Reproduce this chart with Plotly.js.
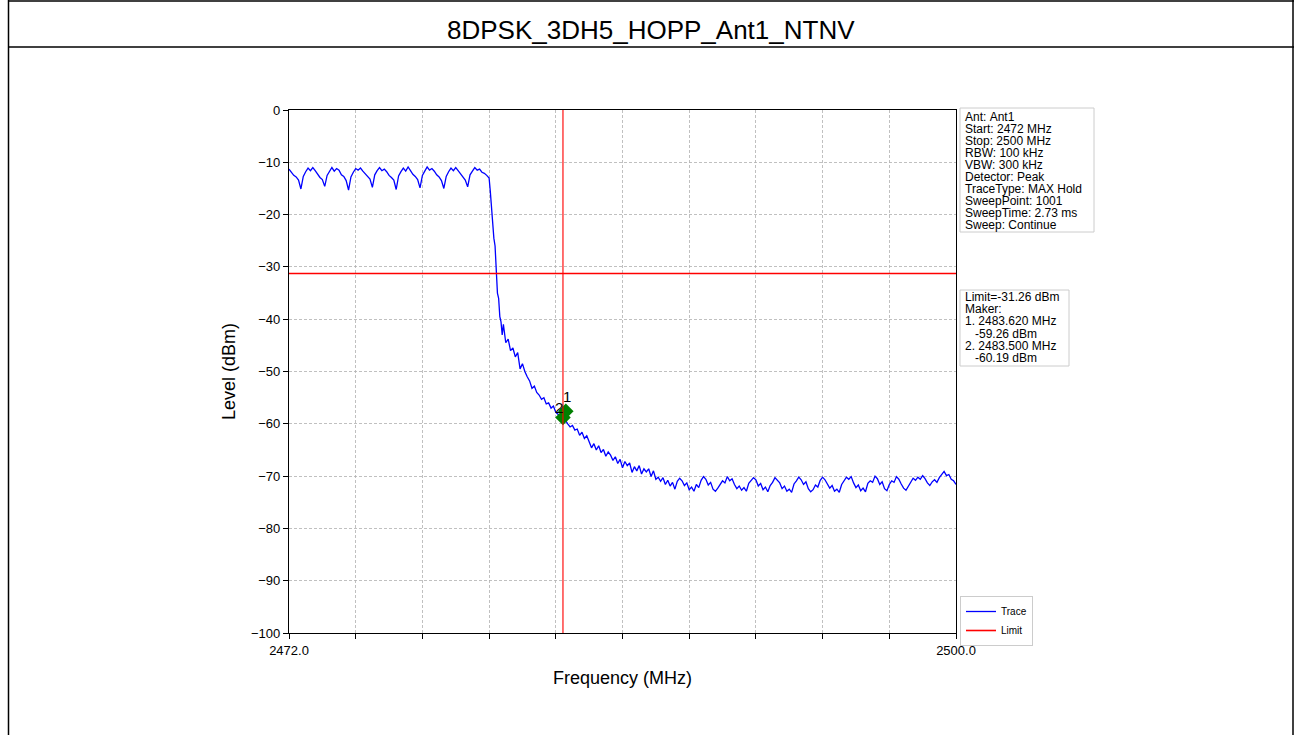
<!DOCTYPE html>
<html>
<head>
<meta charset="utf-8">
<script src="https://cdn.plot.ly/plotly-3.0.1.min.js"></script>
<style>
html,body{margin:0;padding:0;background:#fff;}
#chart{width:1294px;height:735px;}
</style>
</head>
<body>
<div id="chart"></div>
<script>
// ---- data ----
const chartTitle = "8DPSK_3DH5_HOPP_Ant1_NTNV";
const xAxisTitle = "Frequency (MHz)";
const yAxisTitle = "Level (dBm)";

const freqMHz = [
  2472.0,2472.1,2472.2,2472.3,2472.4,2472.5,2472.6,2472.7,2472.8,2472.9,
  2473.0,2473.1,2473.2,2473.3,2473.4,2473.5,2473.6,2473.7,2473.8,2473.9,
  2474.0,2474.1,2474.2,2474.3,2474.4,2474.5,2474.6,2474.7,2474.8,2474.9,
  2475.0,2475.1,2475.2,2475.3,2475.4,2475.5,2475.6,2475.7,2475.8,2475.9,
  2476.0,2476.1,2476.2,2476.3,2476.4,2476.5,2476.6,2476.7,2476.8,2476.9,
  2477.0,2477.1,2477.2,2477.3,2477.4,2477.5,2477.6,2477.7,2477.8,2477.9,
  2478.0,2478.1,2478.2,2478.3,2478.4,2478.5,2478.6,2478.7,2478.8,2478.9,
  2479.0,2479.1,2479.2,2479.3,2479.4,2479.5,2479.6,2479.7,2479.8,2479.9,
  2480.0,2480.1,2480.2,2480.3,2480.4,2480.45,2480.5,2480.55,2480.6,2480.65,2480.7,2480.75,2480.8,2480.85,2480.9,2480.95,
  2481.0,2481.1,2481.2,2481.3,2481.4,2481.5,2481.6,2481.7,2481.8,2481.9,
  2482.0,2482.1,2482.2,2482.3,2482.4,2482.5,2482.6,2482.7,2482.8,2482.9,
  2483.0,2483.1,2483.2,2483.3,2483.4,2483.5,2483.6,2483.7,2483.8,2483.9,
  2484.0,2484.1,2484.2,2484.3,2484.4,2484.5,2484.6,2484.7,2484.8,2484.9,
  2485.0,2485.1,2485.2,2485.3,2485.4,2485.5,2485.6,2485.7,2485.8,2485.9,
  2486.0,2486.1,2486.2,2486.3,2486.4,2486.5,2486.6,2486.7,2486.8,2486.9,
  2487.0,2487.1,2487.2,2487.3,2487.4,2487.5,2487.6,2487.7,2487.8,2487.9,
  2488.0,2488.1,2488.2,2488.3,2488.4,2488.5,2488.6,2488.7,2488.8,2488.9,
  2489.0,2489.1,2489.2,2489.3,2489.4,2489.5,2489.6,2489.7,2489.8,2489.9,
  2490.0,2490.1,2490.2,2490.3,2490.4,2490.5,2490.6,2490.7,2490.8,2490.9,
  2491.0,2491.1,2491.2,2491.3,2491.4,2491.5,2491.6,2491.7,2491.8,2491.9,
  2492.0,2492.1,2492.2,2492.3,2492.4,2492.5,2492.6,2492.7,2492.8,2492.9,
  2493.0,2493.1,2493.2,2493.3,2493.4,2493.5,2493.6,2493.7,2493.8,2493.9,
  2494.0,2494.1,2494.2,2494.3,2494.4,2494.5,2494.6,2494.7,2494.8,2494.9,
  2495.0,2495.1,2495.2,2495.3,2495.4,2495.5,2495.6,2495.7,2495.8,2495.9,
  2496.0,2496.1,2496.2,2496.3,2496.4,2496.5,2496.6,2496.7,2496.8,2496.9,
  2497.0,2497.1,2497.2,2497.3,2497.4,2497.5,2497.6,2497.7,2497.8,2497.9,
  2498.0,2498.1,2498.2,2498.3,2498.4,2498.5,2498.6,2498.7,2498.8,2498.9,
  2499.0,2499.1,2499.2,2499.3,2499.4,2499.5,2499.6,2499.7,2499.8,2499.9,
  2500.0
];

const levelDbm = [
  -11.3,-11.9,-12.5,-12.8,-13.4,-15.1,-12.7,-11.8,-11.1,-11.6,
  -11.0,-11.6,-12.3,-12.9,-13.3,-14.6,-12.5,-11.7,-11.0,-11.7,
  -11.2,-11.5,-12.4,-12.7,-13.5,-15.3,-12.8,-11.9,-11.2,-11.5,
  -11.1,-11.7,-12.2,-12.8,-13.2,-14.8,-12.4,-11.6,-11.0,-11.6,
  -11.3,-11.8,-12.5,-12.9,-13.4,-15.2,-12.6,-11.8,-11.1,-11.7,
  -10.9,-11.6,-12.3,-12.7,-13.3,-14.9,-12.5,-11.7,-10.9,-11.5,
  -11.2,-11.7,-12.4,-12.8,-13.5,-15.0,-12.7,-11.8,-11.1,-11.6,
  -11.0,-11.6,-12.2,-12.9,-13.4,-14.7,-12.4,-11.7,-11.0,-11.5,
  -11.3,-11.9,-12.1,-12.5,-13.0,-15.5,-19.0,-22.5,-24.5,-26.0,-31.0,-35.0,-36.0,-39.5,-40.5,-43.0,
  -41.0,-44.5,-43.8,-46.0,-45.5,-47.2,-46.4,-49.5,-48.5,-50.0,
  -51.0,-51.8,-53.2,-52.8,-54.0,-54.5,-55.3,-55.0,-56.2,-56.0,
  -57.0,-56.6,-57.8,-58.3,-58.6,-59.5,-59.3,-60.0,-60.6,-60.3,
  -61.2,-61.0,-62.2,-61.6,-62.8,-62.3,-63.5,-64.6,-63.8,-65.0,
  -64.2,-65.5,-64.9,-66.2,-65.4,-66.0,-67.0,-66.3,-67.6,-66.8,
  -68.4,-67.2,-68.0,-67.5,-69.3,-68.2,-69.0,-68.0,-69.6,-68.6,
  -69.2,-68.6,-70.1,-69.0,-70.6,-70.2,-71.0,-70.3,-71.6,-70.8,
  -71.9,-71.2,-72.5,-71.0,-70.4,-70.9,-71.8,-71.3,-72.6,-72.1,
  -72.9,-71.6,-72.2,-70.8,-70.1,-70.6,-71.7,-71.2,-72.5,-72.9,
  -72.3,-71.5,-70.9,-71.3,-70.1,-70.9,-70.5,-71.6,-72.4,-71.9,
  -72.7,-72.2,-72.9,-71.4,-70.9,-70.3,-70.7,-71.9,-71.4,-72.6,
  -72.1,-73.0,-71.8,-71.2,-70.3,-70.9,-71.3,-72.4,-71.9,-72.9,
  -72.5,-73.1,-71.5,-70.9,-70.2,-70.7,-71.6,-71.1,-72.4,-73.0,
  -72.6,-71.7,-72.1,-70.8,-70.2,-70.7,-71.5,-72.3,-71.8,-72.9,
  -72.5,-73.1,-71.6,-71.0,-70.2,-70.6,-70.1,-71.3,-72.2,-71.7,
  -72.8,-72.3,-73.0,-71.4,-70.9,-71.2,-70.0,-70.5,-71.6,-71.1,
  -72.4,-72.8,-71.6,-70.9,-71.2,-70.1,-70.6,-71.5,-72.3,-72.7,
  -71.9,-71.2,-70.4,-70.8,-70.2,-70.6,-69.9,-70.5,-71.3,-71.8,
  -71.1,-70.7,-71.2,-70.3,-69.6,-69.1,-69.9,-69.7,-70.6,-70.9,
  -71.6
];

const freqRange = [2472, 2500];
const limitDbm = -31.26;
const markerLineFreq = 2483.5;
const markerFreqs = [2483.62, 2483.50];
const markerLevels = [-57.6, -58.8];     // where the diamonds are drawn in the picture
const markerLabels = ["1", "2"];

const xTickVals = [2472, 2474.8, 2477.6, 2480.4, 2483.2, 2486, 2488.8, 2491.6, 2494.4, 2497.2, 2500];
const xTickText = ["2472.0", "", "", "", "", "", "", "", "", "", "2500.0"];
const yTickVals = [-100, -90, -80, -70, -60, -50, -40, -30, -20, -10, 0];

const infoLines = [
  "Ant: Ant1", "Start: 2472 MHz", "Stop: 2500 MHz", "RBW: 100 kHz", "VBW: 300 kHz",
  "Detector: Peak", "TraceType: MAX Hold", "SweepPoint: 1001", "SweepTime: 2.73 ms", "Sweep: Continue"
];
const limitLines = [
  "Limit=-31.26 dBm", "Maker:", "1. 2483.620 MHz", "   -59.26 dBm", "2. 2483.500 MHz", "   -60.19 dBm"
];

// ---- page geometry (pixels) ----
const W = 1294, H = 735;
const PL = 289, PR = 956, PT = 110, PB = 633;
const pw = PR - PL, ph = PB - PT;
const px = v => (v - PL) / pw;          // pixel x -> paper x
const py = v => (PB - v) / ph;          // pixel y -> paper y

const FONT = "Liberation Sans, Arial, sans-serif";

const traces = [
  {
    x: freqMHz, y: levelDbm, type: "scatter", mode: "lines", name: "Trace",
    line: {color: "#0000ff", width: 1.3}
  },
  {
    x: freqRange, y: [limitDbm, limitDbm], type: "scatter", mode: "lines", name: "Limit",
    line: {color: "#ff0000", width: 1.6}
  },
  {
    x: markerFreqs, y: markerLevels, type: "scatter", mode: "markers", showlegend: false,
    marker: {symbol: "diamond", size: 12, color: "#008000", line: {width: 0}}
  }
];

const shapes = [
  // vertical marker line
  {type: "line", xref: "x", yref: "paper", x0: markerLineFreq, x1: markerLineFreq, y0: 0, y1: 1,
   line: {color: "rgba(255,0,0,0.7)", width: 1.6}, layer: "above"},
  // outer frame
  {type: "line", xref: "paper", yref: "paper", x0: px(8.5), x1: px(8.5), y0: py(0), y1: py(740),
   line: {color: "#000", width: 1.5}},
  {type: "line", xref: "paper", yref: "paper", x0: px(1293), x1: px(1293), y0: py(0), y1: py(740),
   line: {color: "#000", width: 1.5}},
  {type: "line", xref: "paper", yref: "paper", x0: px(8), x1: px(1294), y0: py(1), y1: py(1),
   line: {color: "#000", width: 1.5}},
  {type: "line", xref: "paper", yref: "paper", x0: px(8), x1: px(1294), y0: py(47), y1: py(47),
   line: {color: "#000", width: 1.5}},
  // info boxes
  {type: "rect", xref: "paper", yref: "paper", x0: px(960), x1: px(1094), y0: py(108), y1: py(232),
   line: {color: "#cccccc", width: 1}, fillcolor: "rgba(255,255,255,0.8)"},
  {type: "rect", xref: "paper", yref: "paper", x0: px(960), x1: px(1069), y0: py(290), y1: py(366),
   line: {color: "#cccccc", width: 1}, fillcolor: "rgba(255,255,255,0.8)"}
];

const annotations = [
  {text: chartTitle, xref: "paper", yref: "paper", x: px(651), y: py(30), xanchor: "center", yanchor: "middle",
   showarrow: false, font: {family: FONT, size: 26, color: "#000"}}
];
infoLines.forEach((t, i) => annotations.push({
  text: t.replace(/ /g, "&nbsp;"), xref: "paper", yref: "paper", x: px(963), y: py(117 + i * 12.0),
  xanchor: "left", yanchor: "middle", showarrow: false, font: {family: FONT, size: 12, color: "#000"}
}));
limitLines.forEach((t, i) => annotations.push({
  text: t.replace(/ /g, "&nbsp;"), xref: "paper", yref: "paper", x: px(963), y: py(297 + i * 12.2),
  xanchor: "left", yanchor: "middle", showarrow: false, font: {family: FONT, size: 12, color: "#000"}
}));
markerLabels.forEach((t, i) => annotations.push({
  text: t, xref: "x", yref: "y", x: markerFreqs[i], y: markerLevels[i], xanchor: "center", yanchor: "bottom",
  yshift: i === 0 ? 4 : 0, xshift: i === 0 ? 1 : -4, showarrow: false, font: {family: FONT, size: 15, color: "#000"}
}));

const layout = {
  width: W, height: H,
  margin: {l: PL, r: W - PR, t: PT, b: H - PB, pad: 0},
  paper_bgcolor: "#ffffff", plot_bgcolor: "#ffffff",
  font: {family: FONT, color: "#000"},
  showlegend: true,
  legend: {
    x: px(960), y: py(596), xanchor: "left", yanchor: "top",
    bgcolor: "rgba(255,255,255,0.8)", bordercolor: "#cccccc", borderwidth: 1,
    font: {family: FONT, size: 10, color: "#000"}, tracegroupgap: 0, itemwidth: 30
  },
  xaxis: {
    range: freqRange, tickmode: "array", tickvals: xTickVals, ticktext: xTickText,
    showgrid: true, gridcolor: "#b0b0b0", griddash: "3px,2px", gridwidth: 0.8,
    showline: true, linecolor: "#000", linewidth: 1.2, mirror: true,
    ticks: "outside", ticklen: 5, tickwidth: 1, tickcolor: "#000",
    tickfont: {family: FONT, size: 13, color: "#000"}, zeroline: false,
    title: {text: xAxisTitle, font: {family: FONT, size: 18, color: "#000"}, standoff: 14}
  },
  yaxis: {
    range: [-100, 0], tickmode: "array", tickvals: yTickVals,
    showgrid: true, gridcolor: "#b0b0b0", griddash: "3px,2px", gridwidth: 0.8,
    showline: true, linecolor: "#000", linewidth: 1.2, mirror: true,
    ticks: "outside", ticklen: 5, tickwidth: 1, tickcolor: "#000",
    tickfont: {family: FONT, size: 13, color: "#000"}, zeroline: false,
    title: {text: yAxisTitle, font: {family: FONT, size: 18, color: "#000"}, standoff: 10}
  },
  shapes: shapes,
  annotations: annotations
};

Plotly.newPlot("chart", traces, layout, {displayModeBar: false, staticPlot: true});
</script>
</body>
</html>
